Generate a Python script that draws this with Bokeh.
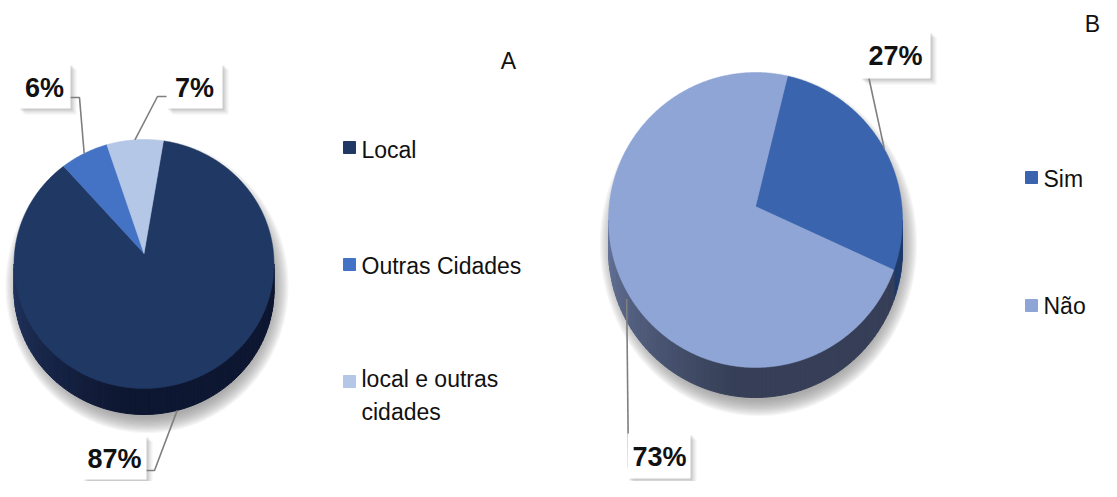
import numpy as np
from bokeh.plotting import figure
from bokeh.models import Range1d
from bokeh.core.properties import value
from bokeh.embed import file_html
from bokeh.resources import INLINE

# ---------------- data ----------------
categories_a = ["Local", "Outras Cidades", "local e outras\ncidades"]
values_a = [87, 6, 7]
categories_b = ["Sim", "Não"]
values_b = [27, 73]
panel_titles = ["A", "B"]

# ---------------- style ----------------
colors_a = ["#203864", "#4472c4", "#b4c7e7"]
side_a = [("#22345f", "#0e1731"), ("#2f5597", "#1f3864"), ("#8faadc", "#6f8ac0")]
colors_b = ["#3a64ad", "#8fa5d6"]
side_b = [("#2a4a85", "#1f3a6a"), ("#66759a", "#363f57")]

W, H = 1101, 481
p = figure(width=W, height=H, output_backend="svg", toolbar_location=None,
           x_range=Range1d(0, W), y_range=Range1d(H, 0),
           min_border=0, background_fill_color="white", border_fill_color="white")
p.axis.visible = False
p.grid.visible = False
p.outline_line_color = None


def hex2rgb(h):
    h = h.lstrip("#")
    return np.array([int(h[i:i + 2], 16) for i in (0, 2, 4)], dtype=float)


def mix(c1, c2, t):
    c = hex2rgb(c1) * (1 - t) + hex2rgb(c2) * t
    return "#%02x%02x%02x" % tuple(int(round(v)) for v in c)


def pie3d(vals, cols, sides, cx, cy_e, cy_a, rx, ry, depth, start):
    fr = np.array(vals, dtype=float) / sum(vals)
    edges = start + 360 * np.concatenate([[0], np.cumsum(fr)])

    def pt(th, dy=0.0):
        t = np.radians(th)
        return cx + rx * np.sin(t), cy_e - ry * np.cos(t) + dy

    # soft shadow
    tt = np.linspace(0, 2 * np.pi, 120)
    for k in range(14):
        sx = cx + 3 + (rx - 4 + k * 1.2) * np.sin(tt)
        sy = cy_e + depth / 2 + 9 + (ry + depth / 2 - 6 + k * 1.2) * np.cos(tt)
        p.patch(list(sx), list(sy), fill_color="#808080", fill_alpha=0.075, line_color=None)

    # side walls (front half: 90..270 deg)
    xs, ys, cs = [], [], []
    for i in range(len(vals)):
        a, b = edges[i], edges[i + 1]
        for off in (0, 360):
            lo, hi = max(a, 90 + off), min(b, 270 + off)
            if hi <= lo:
                continue
            n = max(2, int((hi - lo) / 2))
            th = np.linspace(lo, hi, n + 1)
            for j in range(n):
                t0, t1 = th[j], th[j + 1]
                x0, y0 = pt(t0)
                x1, y1 = pt(t1)
                xs.append([x0, x1, x1, x0])
                ys.append([y0, y1, y1 + depth, y0 + depth])
                tm = ((t0 + t1) / 2 - off)
                g = min(1.0, ((270 - tm) / 180.0) / 0.45)
                cs.append(mix(sides[i][0], sides[i][1], g))
    p.patches(xs, ys, fill_color=cs, line_color=cs, line_width=1)

    # top faces
    txs, tys = [], []
    for i in range(len(vals)):
        th = np.linspace(edges[i], edges[i + 1], max(3, int((edges[i + 1] - edges[i]) * 2)))
        ax, ay = pt(th)
        txs.append([cx] + list(ax))
        tys.append([cy_a] + list(ay))
    p.patches(txs, tys, fill_color=cols, line_color=cols, line_width=0.5)

    mids = (edges[:-1] + edges[1:]) / 2
    return pt, mids


def label_box(x0, x1, y0, y1, txt, tx, ty):
    for off, al in ((6, 0.10), (4, 0.16), (2, 0.22)):
        p.patch([x0 + off, x1 + off, x1 + off, x0 + off], [y0 + off, y0 + off, y1 + off, y1 + off],
                fill_color="#808080", fill_alpha=al, line_color=None)
    p.patch([x0, x1, x1, x0], [y0, y0, y1, y1], fill_color="white", line_color=None)
    p.text([tx], [ty], text=[txt], text_font=value("Liberation Sans"),
           text_font_style="bold", text_font_size="27px", text_align="center",
           text_baseline="middle", text_color="#111111")


lead = dict(line_color="#7f7f7f", line_width=1.6)

# ---------------- Pie A ----------------
ptA, midsA = pie3d(values_a, colors_a, side_a, 143.5, 263.5, 253, 130, 124.5, 26, 8.6)
labA = [f"{v}%" for v in values_a]
# Local (87%)
ex, ey = ptA(midsA[0], 26)
p.line([ex, 154, 144], [ey, 470, 470], **lead)
label_box(82, 146, 435, 479, labA[0], 114, 458)
# Outras Cidades (6%)
ex, ey = ptA(midsA[1])
p.line([ex, 79, 68], [ey, 97, 97], **lead)
label_box(18, 70, 63, 108, labA[1], 44, 87)
# local e outras cidades (7%)
ex, ey = ptA(midsA[2])
p.line([ex, 157, 167], [ey, 96, 96], **lead)
label_box(166, 222, 63, 108, labA[2], 194, 87)

# legend A
p.scatter([349] * 3, [147, 264, 381], marker="square", size=12,
          fill_color=colors_a, line_color=colors_a)
p.text([361] * 3, [149, 265, 395], text=categories_a, text_font=value("Liberation Sans"),
       text_font_size="23px", text_baseline="middle", text_align="left",
       text_color="#111111", text_line_height=1.3)
p.text([508], [60], text=[panel_titles[0]], text_font=value("Liberation Sans"),
       text_font_size="23px", text_baseline="middle", text_align="center", text_color="#111111")

# ---------------- Pie B ----------------
ptB, midsB = pie3d(values_b, colors_b, side_b, 755, 219.5, 206, 147, 147.5, 30, 12.6)
labB = [f"{v}%" for v in values_b]
ex, ey = ptB(midsB[0])
p.line([ex, 865], [ey, 62], **lead)
label_box(860, 930, 31, 78, labB[0], 895, 55)
ex, ey = ptB(midsB[1])
p.line([ex, 628], [ey + 8, 468], **lead)
label_box(627, 690, 433, 478, labB[1], 659, 456)

p.scatter([1031, 1031], [177, 305], marker="square", size=12,
          fill_color=colors_b, line_color=colors_b)
p.text([1043, 1043], [178, 305], text=categories_b, text_font=value("Liberation Sans"),
       text_font_size="23px", text_baseline="middle", text_align="left", text_color="#111111")
p.text([1092], [23], text=[panel_titles[1]], text_font=value("Liberation Sans"),
       text_font_size="23px", text_baseline="middle", text_align="center", text_color="#111111")

open("out.html", "w").write(file_html(p, INLINE))
